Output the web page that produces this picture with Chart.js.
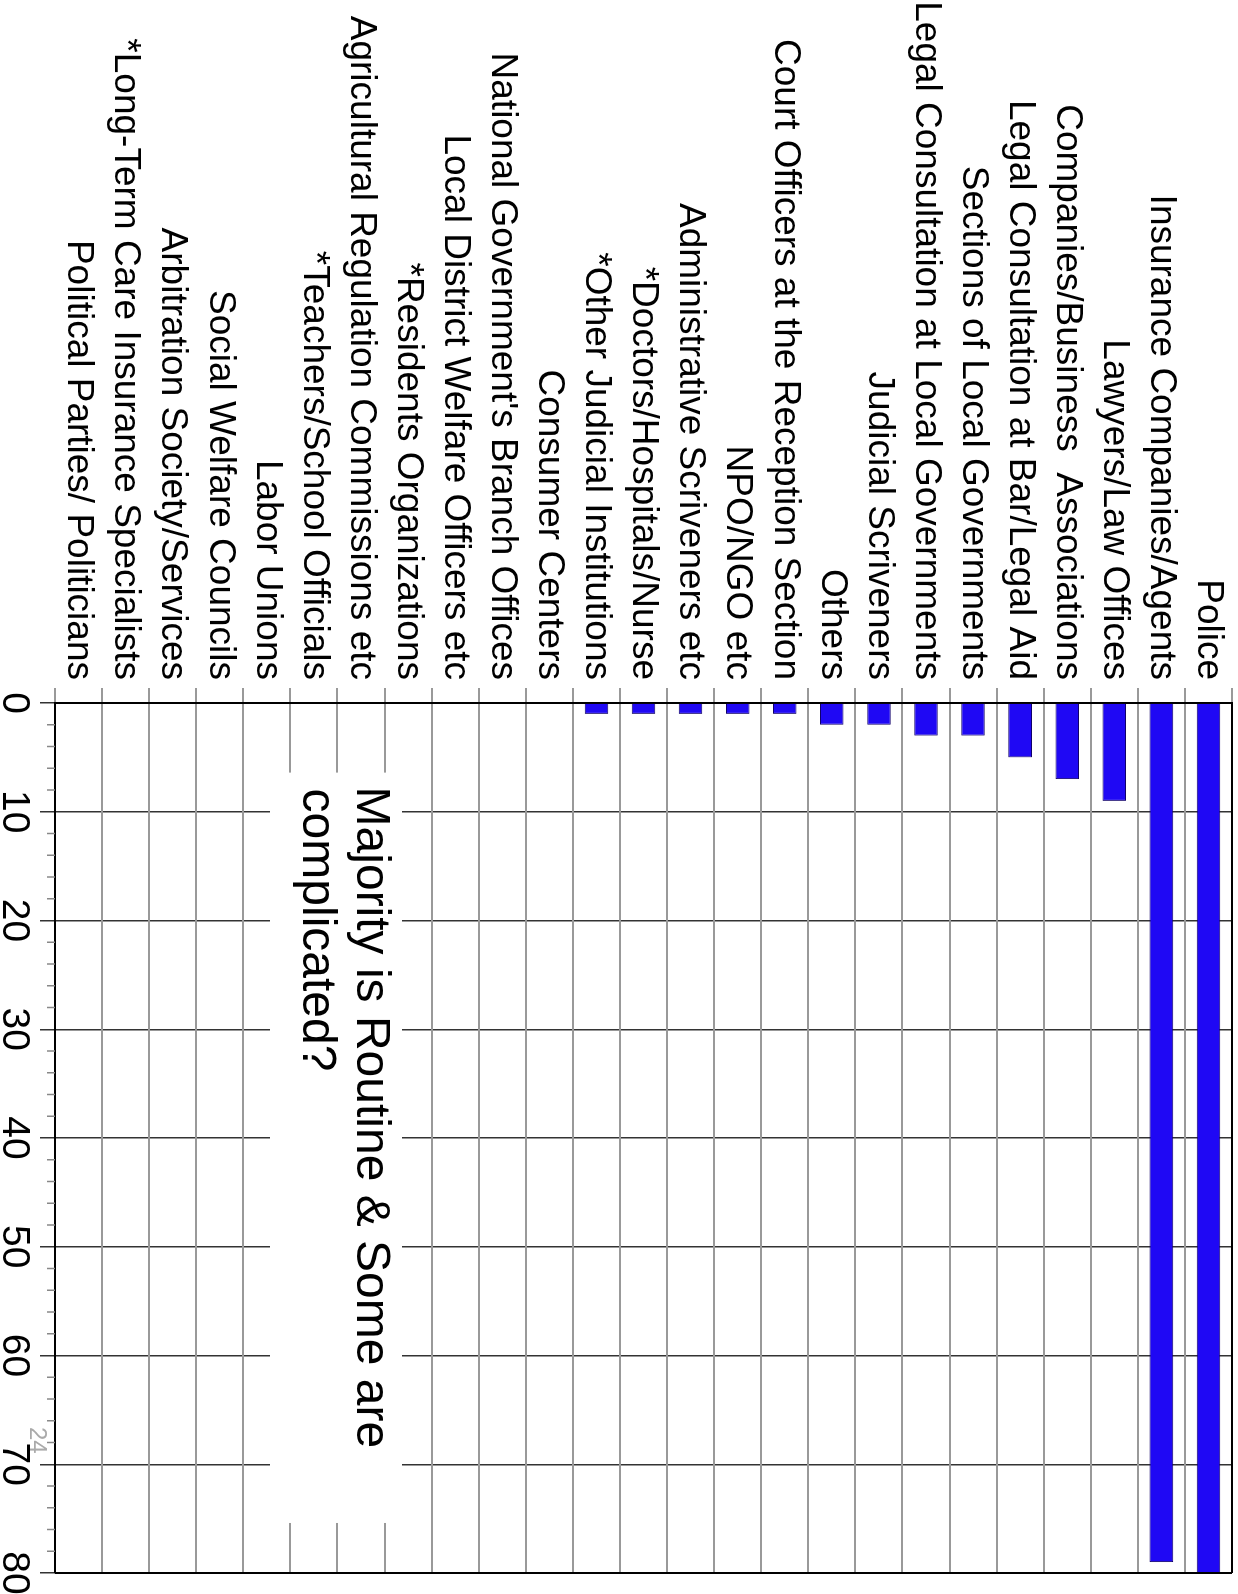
<!DOCTYPE html>
<html>
<head>
<meta charset="utf-8">
<script src="https://cdn.jsdelivr.net/npm/chart.js@4.4.0/dist/chart.umd.min.js"></script>
<style>
    html, body {margin: 0; padding: 0; background: #fff; overflow: hidden}
    /* the chart is drawn as a horizontal bar chart, then turned 90deg clockwise */
    #wrap {position: absolute; left: 0; top: 0; width: 1594px; height: 1238px;
        transform-origin: 0 0; transform: translateX(1238px) rotate(90deg)}
</style>
</head>
<body>
<div id="wrap"><canvas id="chart" width="1594" height="1238"></canvas></div>
<script>
const categories = [
    'Police',
    'Insurance Companies/Agents',
    'Lawyers/Law Offices',
    'Companies/Business  Associations',
    'Legal Consultation at Bar/Legal Aid',
    'Sections of Local Governments',
    'Legal Consultation at Local Governments',
    'Judicial Scriveners',
    'Others',
    'Court Officers at the Reception Section',
    'NPO/NGO etc',
    'Administrative Scriveners etc',
    '*Doctors/Hospitals/Nurse',
    '*Other Judicial Institutions',
    'Consumer Centers',
    "National Government's Branch Offices",
    'Local District Welfare Officers etc',
    '*Residents Organizations',
    'Agricultural Regulation Commissions etc',
    '*Teachers/School Officials',
    'Labor Unions',
    'Social Welfare Councils',
    'Arbitration Society/Services',
    '*Long-Term Care Insurance Specialists',
    'Political Parties/ Politicians'
]
const counts = [80, 79, 9, 7, 5, 3, 3, 2, 2, 1, 1, 1, 1, 1, 0, 0, 0, 0, 0, 0, 0, 0, 0, 0, 0]
const valueMin = 0
const valueMax = 80
const majorStep = 10
const minorStep = 2
const noteLines = ['Majority is Routine & Some are', 'complicated?']
const pageNumber = '24'

const Chart = window.Chart
Chart.defaults.font.family = "'Liberation Sans', Arial, sans-serif"
Chart.defaults.color = '#000'

// minor ticks, frame, white note box and page number
const extras = {
    id: 'extras',
    afterDraw(chart) {
        const ctx = chart.ctx
        const area = chart.chartArea
        const xs = chart.scales.x
        ctx.save()
        ctx.strokeStyle = '#888'
        ctx.lineWidth = 1.5
        for (let v = valueMin + minorStep; v < valueMax; v += minorStep) {
            if (v % majorStep === 0) continue
            const px = xs.getPixelForValue(v)
            ctx.beginPath()
            ctx.moveTo(px, area.bottom)
            ctx.lineTo(px, area.bottom + 8)
            ctx.stroke()
        }
        // top and right frame lines
        ctx.strokeStyle = '#000'
        ctx.lineWidth = 2
        ctx.beginPath()
        ctx.moveTo(area.left, area.top)
        ctx.lineTo(area.right, area.top)
        ctx.moveTo(area.right, area.top)
        ctx.lineTo(area.right, area.bottom)
        ctx.stroke()

        // note box
        const left = xs.getPixelForValue(6.4)
        const right = xs.getPixelForValue(75.4)
        const top = 836
        const bottom = 968
        ctx.fillStyle = '#fff'
        ctx.fillRect(left, top, right - left, bottom - top)
        ctx.fillStyle = '#000'
        ctx.font = "48px 'Liberation Sans', Arial, sans-serif"
        ctx.textBaseline = 'alphabetic'
        ctx.textAlign = 'left'
        ctx.fillText(noteLines[0], left + 14, top + 45)
        ctx.fillText(noteLines[1], left + 16, top + 99)

        ctx.fillStyle = '#aaa'
        ctx.font = "24px 'Liberation Sans', Arial, sans-serif"
        ctx.fillText(pageNumber, 1427, 1208)
        ctx.restore()
    }
}

const chartCtx = document.getElementById('chart').getContext('2d')
const barChart = new Chart(chartCtx, {
    type: 'bar',
    data: {
        labels: categories,
        datasets: [{
            data: counts,
            backgroundColor: '#1f08f4',
            borderColor: '#10006a',
            borderWidth: 1,
            barPercentage: 0.5,
            categoryPercentage: 1
        }]
    },
    options: {
        indexAxis: 'y',
        responsive: false,
        animation: false,
        layout: {padding: {top: 6, right: 21, left: 0, bottom: 0}},
        plugins: {legend: {display: false}, tooltip: {enabled: false}},
        scales: {
            x: {
                min: valueMin,
                max: valueMax,
                ticks: {
                    stepSize: minorStep,
                    autoSkip: false,
                    maxRotation: 0,
                    padding: 3,
                    font: {size: 39},
                    callback: (value) => value % majorStep === 0 ? String(value) : ''
                },
                grid: {
                    color: (c) => c.tick && c.tick.value % majorStep === 0 ? '#333' : 'transparent',
                    tickColor: (c) => c.tick && c.tick.value % majorStep === 0 ? '#333' : 'transparent',
                    lineWidth: 1.5,
                    tickLength: 15
                },
                border: {color: '#000', width: 2},
                afterFit: (scale) => {
                    scale.height = 55
                    scale.paddingLeft = 0
                    scale.paddingRight = 0
                }
            },
            y: {
                ticks: {autoSkip: false, padding: 8, font: {size: 37}},
                grid: {color: '#999', lineWidth: 2, offset: true, tickLength: 15},
                border: {color: '#000', width: 2},
                afterFit: (scale) => {
                    scale.width = 703
                    scale.paddingTop = 0
                    scale.paddingBottom = 0
                }
            }
        }
    },
    plugins: [extras]
})
</script>
</body>
</html>
